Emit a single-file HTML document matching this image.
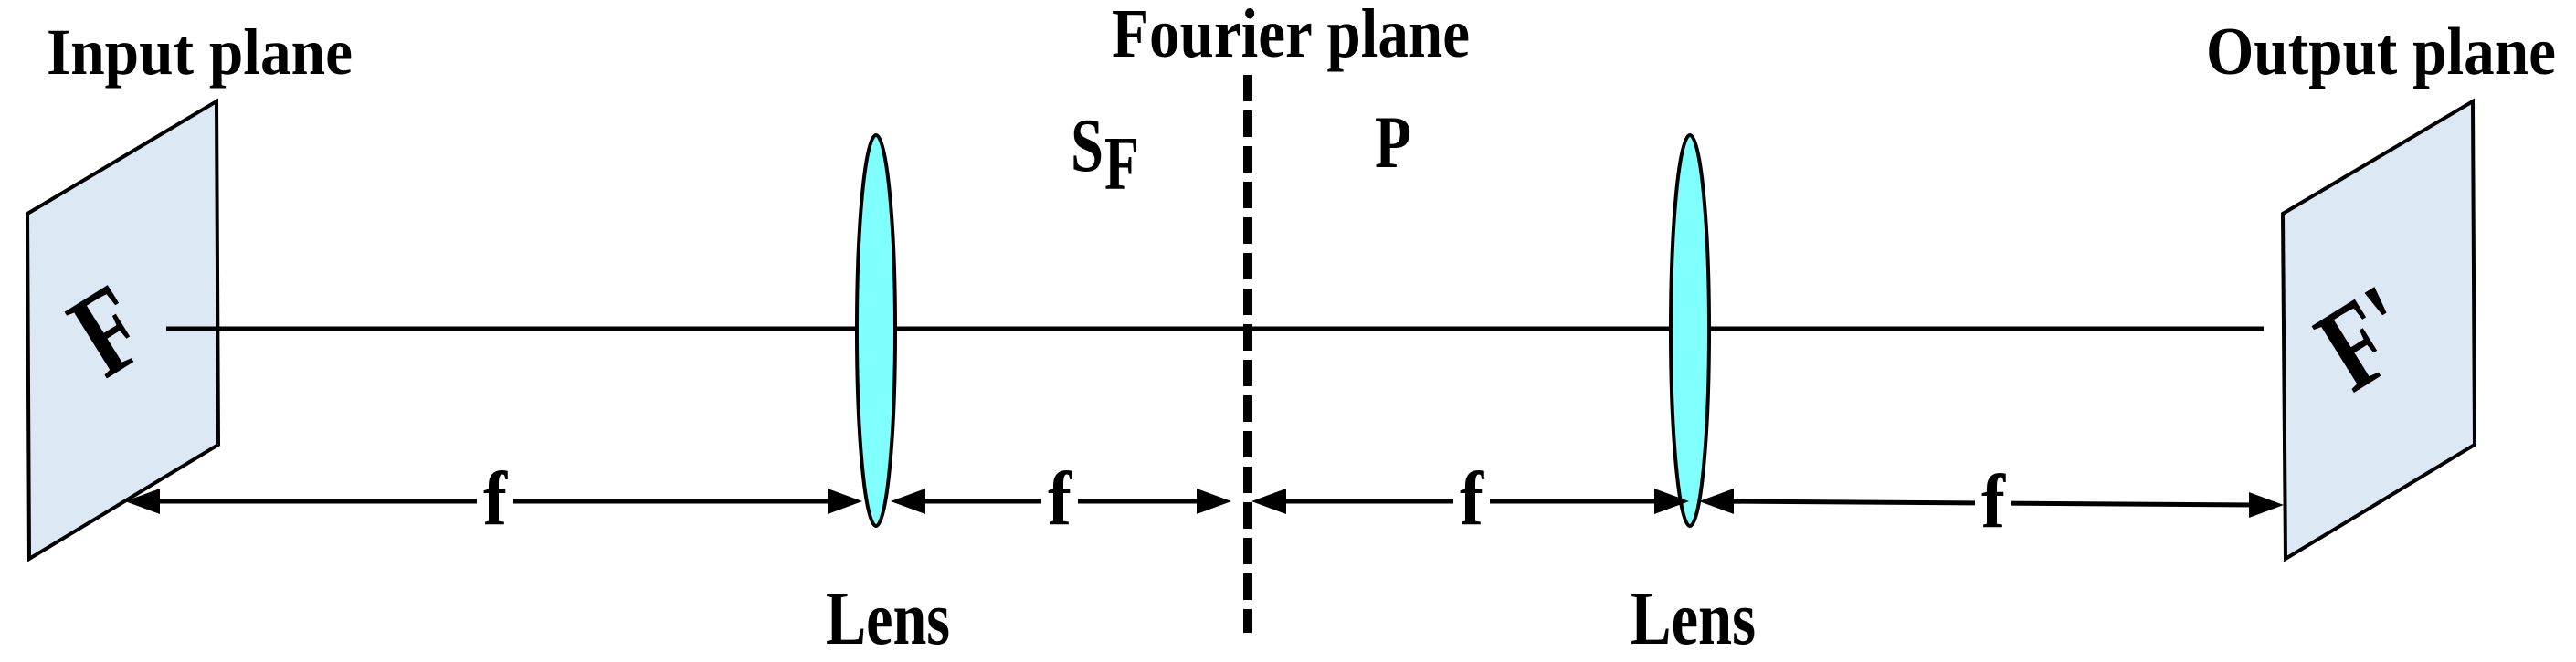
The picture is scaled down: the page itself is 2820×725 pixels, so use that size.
<!DOCTYPE html>
<html><head><meta charset="utf-8"><style>html,body{margin:0;padding:0;background:#fff}svg{display:block}</style></head>
<body>
<svg width="2820" height="725" viewBox="0 0 2820 725" xmlns="http://www.w3.org/2000/svg">
<g font-family="'Liberation Serif', serif" font-weight="bold" fill="#000">
<!-- planes -->
<polygon points="30,234 237,111 239,487 32,612" fill="#dde8f5" stroke="#000" stroke-width="4"/>
<polygon points="2499,234 2707,111 2709,487 2502,612" fill="#dde8f5" stroke="#000" stroke-width="4"/>
<!-- axis -->
<line x1="182" y1="360" x2="2478" y2="360" stroke="#000" stroke-width="5"/>
<!-- dashed fourier -->
<line x1="1366" y1="82" x2="1366" y2="693" stroke="#000" stroke-width="10" stroke-dasharray="29,10"/>
<!-- lenses -->
<ellipse cx="959" cy="362" rx="21" ry="214" fill="#80ffff" stroke="#000" stroke-width="4"/>
<ellipse cx="1850" cy="362" rx="21" ry="214" fill="#80ffff" stroke="#000" stroke-width="4"/>
<!-- dimension lines -->
<g stroke="#000" stroke-width="5">
<line x1="165" y1="549" x2="916" y2="549"/>
<line x1="1003" y1="549" x2="1320" y2="549"/>
<line x1="1398" y1="549" x2="1821" y2="549"/>
<line x1="1878" y1="549" x2="2472" y2="553"/>
</g>
<g>
<polygon points="137,549 175,535 175,563"/>
<polygon points="944,549 906,535 906,563"/>
<polygon points="975,549 1013,535 1013,563"/>
<polygon points="1348,549 1310,535 1310,563"/>
<polygon points="1370,549 1408,535 1408,563"/>
<polygon points="1849,549 1811,535 1811,563"/>
<polygon points="1860,549 1898,535 1898,563"/>
<polygon points="2500,553 2462,539 2462,567"/>
</g>
<g fill="#fff">
<rect x="522" y="515" width="40" height="60"/>
<rect x="1140" y="515" width="40" height="60"/>
<rect x="1591" y="515" width="40" height="60"/>
<rect x="2162" y="515" width="40" height="60"/>
</g>
<g font-size="84" text-anchor="middle">
<text x="542" y="574" textLength="26" lengthAdjust="spacingAndGlyphs">f</text>
<text x="1160" y="574" textLength="26" lengthAdjust="spacingAndGlyphs">f</text>
<text x="1611" y="574" textLength="26" lengthAdjust="spacingAndGlyphs">f</text>
<text x="2182" y="577" textLength="26" lengthAdjust="spacingAndGlyphs">f</text>
</g>
<!-- titles -->
<text x="51" y="81" font-size="72" textLength="335" lengthAdjust="spacingAndGlyphs">Input plane</text>
<text x="1217" y="62" font-size="76" textLength="392" lengthAdjust="spacingAndGlyphs">Fourier plane</text>
<text x="2415" y="81" font-size="74" textLength="383" lengthAdjust="spacingAndGlyphs">Output plane</text>
<text x="904" y="705" font-size="84" textLength="136" lengthAdjust="spacingAndGlyphs">Lens</text>
<text x="1785" y="705" font-size="84" textLength="137" lengthAdjust="spacingAndGlyphs">Lens</text>
<text x="1172" y="187" font-size="84" textLength="36" lengthAdjust="spacingAndGlyphs">S</text>
<text x="1209" y="207" font-size="84" textLength="38" lengthAdjust="spacingAndGlyphs">F</text>
<text x="1505" y="183" font-size="82" textLength="40" lengthAdjust="spacingAndGlyphs">P</text>
<!-- rotated F labels -->
<text x="0" y="0" font-size="120" text-anchor="middle" transform="translate(118,362) rotate(-32) scale(0.85,1.1) translate(0,40)">F</text>
<text x="0" y="0" font-size="120" text-anchor="middle" transform="translate(2590,370) rotate(-32) scale(0.85,1.1) translate(0,40)">F'</text>
</g>
</svg>
</body></html>
